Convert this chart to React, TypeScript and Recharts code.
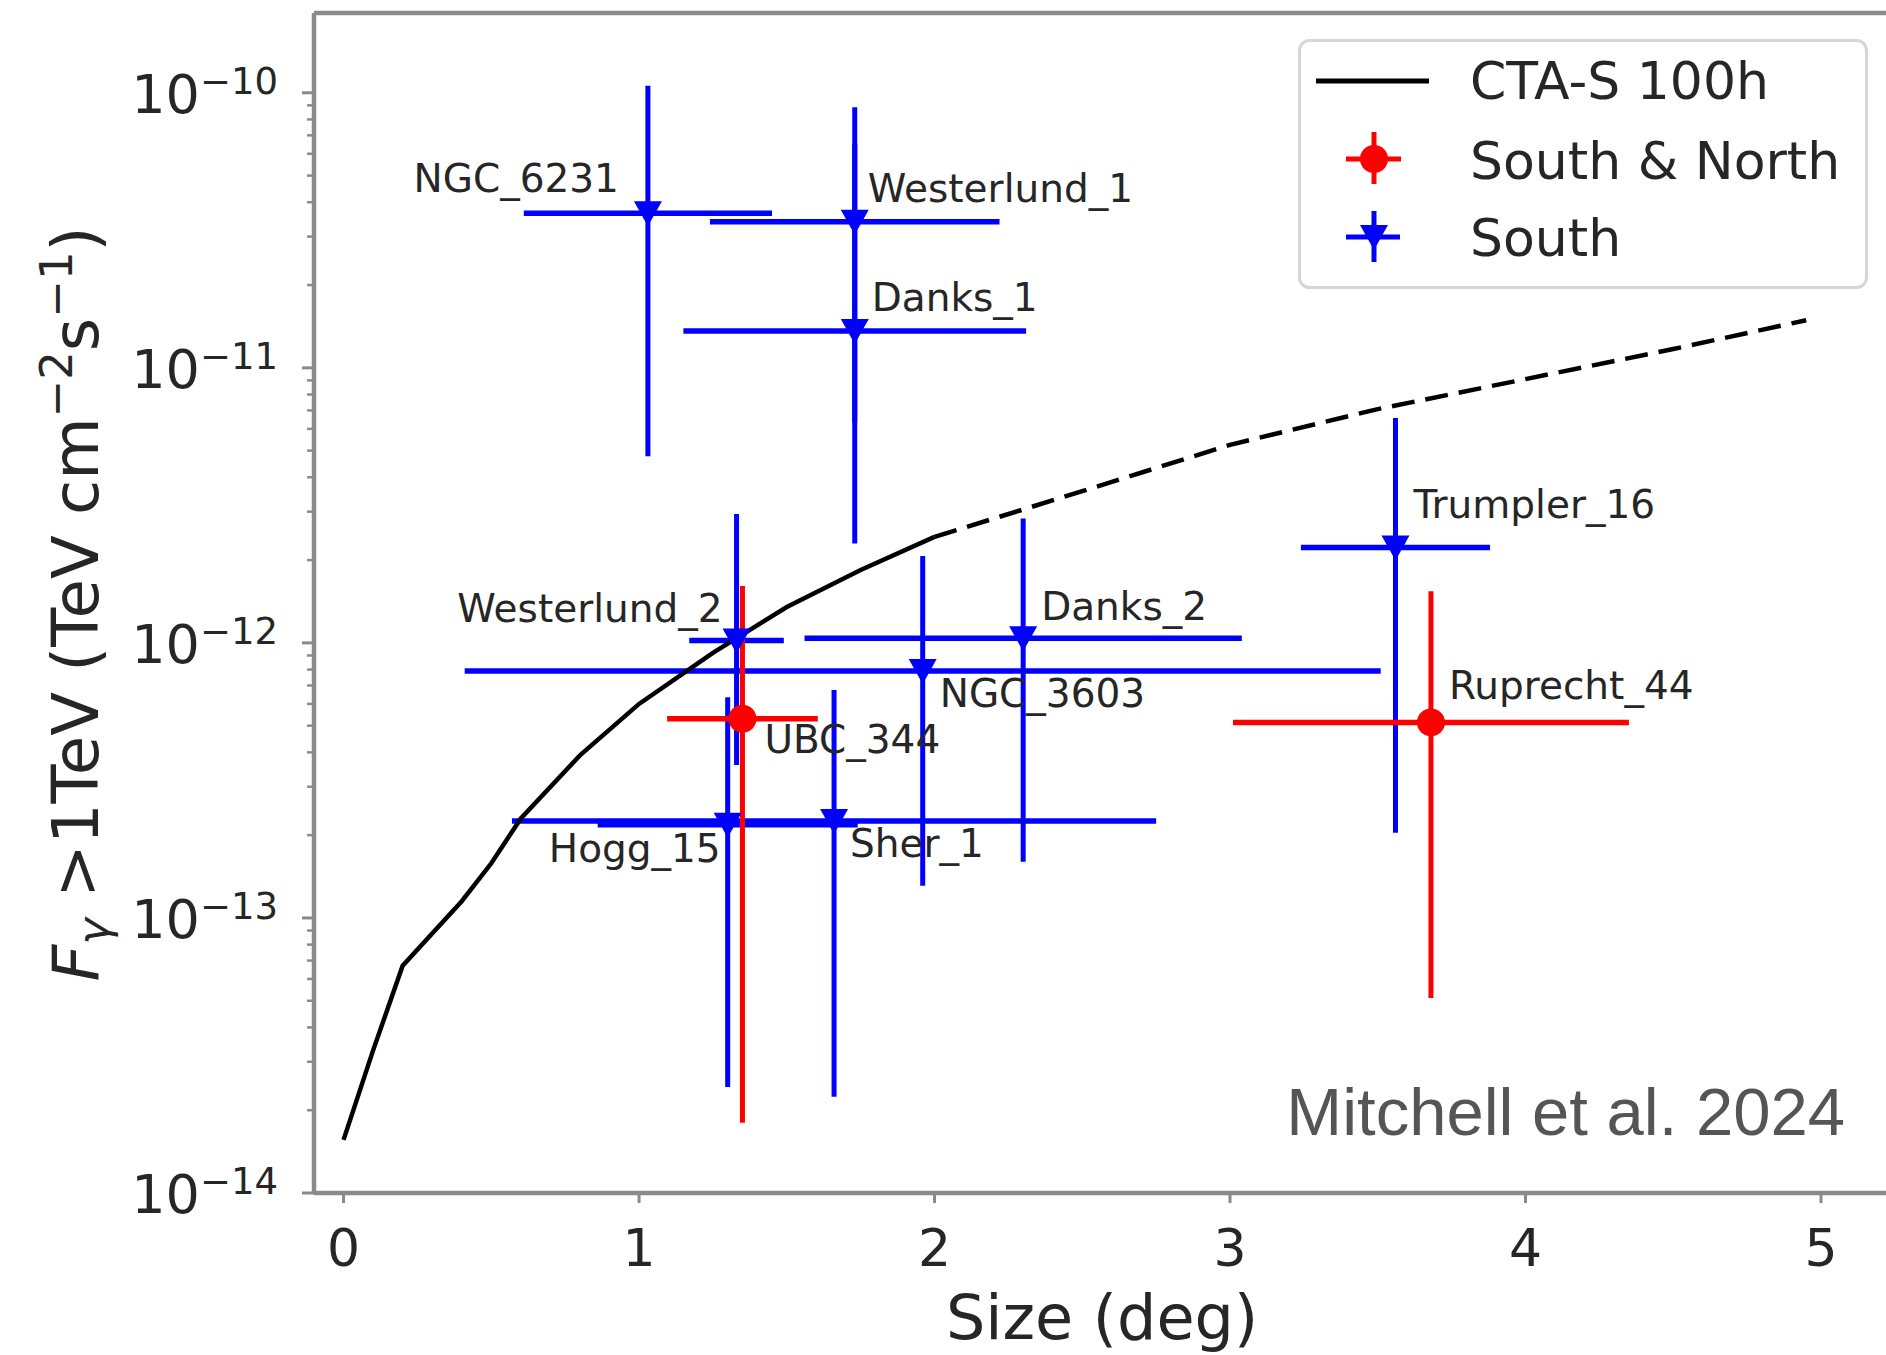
import React from 'react';
import {
  ComposedChart,
  Scatter,
  Line,
  XAxis,
  YAxis,
  ErrorBar,
  ReferenceLine,
  Legend,
  Customized,
} from 'recharts';

// ---------------- data ----------------
const SERIES_CURVE = 'CTA-S 100h';
const SERIES_RED = 'South & North';
const SERIES_BLUE = 'South';

// CTA-S 100h sensitivity curve (solid part, then dashed extrapolation)
const ctaSolidX = [0, 0.1, 0.2, 0.4, 0.5, 0.6, 0.8, 1.0, 1.25, 1.5, 1.75, 2.0];
const ctaSolidY = [1.56e-14, 3.3e-14, 6.7e-14, 1.15e-13, 1.58e-13, 2.3e-13, 3.9e-13, 6.0e-13, 9.2e-13, 1.35e-12, 1.84e-12, 2.43e-12];
const ctaDashX = [2.0, 2.5, 3.0, 3.5, 4.0, 4.5, 4.95];
const ctaDashY = [2.43e-12, 3.56e-12, 5.25e-12, 7.08e-12, 9.1e-12, 1.17e-11, 1.49e-11];

// South clusters
const southNames = ['NGC_6231', 'Westerlund_1', 'Danks_1', 'Westerlund_2', 'Hogg_15', 'Sher_1', 'NGC_3603', 'Danks_2', 'Trumpler_16'];
const southSize = [1.03, 1.73, 1.73, 1.33, 1.30, 1.66, 1.96, 2.30, 3.56];
const southSizeErr = [0.42, 0.49, 0.58, 0.16, 0.44, 1.09, 1.55, 0.74, 0.32];
const southFlux = [3.65e-11, 3.4e-11, 1.36e-11, 1.02e-12, 2.18e-13, 2.25e-13, 7.9e-13, 1.04e-12, 2.22e-12];
const southFluxLow = [4.77e-12, 6.3e-12, 2.3e-12, 3.6e-13, 2.43e-14, 2.24e-14, 1.31e-13, 1.6e-13, 2.04e-13];
const southFluxHigh = [1.06e-10, 8.85e-11, 6.5e-11, 2.94e-12, 6.35e-13, 6.74e-13, 2.07e-12, 2.83e-12, 6.57e-12];

// South & North clusters
const bothNames = ['UBC_344', 'Ruprecht_44'];
const bothSize = [1.35, 3.68];
const bothSizeErr = [0.255, 0.67];
const bothFlux = [5.3e-13, 5.14e-13];
const bothFluxLow = [1.8e-14, 5.12e-14];
const bothFluxHigh = [1.61e-12, 1.54e-12];

const xTicks = [0, 1, 2, 3, 4, 5];
const yMajorTicks = [1e-14, 1e-13, 1e-12, 1e-11, 1e-10];
const yMinorMultipliers = [2, 3, 4, 5, 6, 7, 8, 9];

const X_DOMAIN: [number, number] = [-0.1, 5.22];
const Y_DOMAIN: [number, number] = [1e-14, 1.95e-10];

// ---------------- derived tables ----------------
const ctaSolid = ctaSolidX.map((x, i) => ({ x, y: ctaSolidY[i] }));
const ctaDash = ctaDashX.map((x, i) => ({ x, y: ctaDashY[i] }));

const southData = southNames.map((name, i) => ({
  name,
  x: southSize[i],
  y: southFlux[i],
  errX: southSizeErr[i],
  errY: [southFlux[i] - southFluxLow[i], southFluxHigh[i] - southFlux[i]],
}));
const bothData = bothNames.map((name, i) => ({
  name,
  x: bothSize[i],
  y: bothFlux[i],
  errX: bothSizeErr[i],
  errY: [bothFlux[i] - bothFluxLow[i], bothFluxHigh[i] - bothFlux[i]],
}));

const yMinorTicks: number[] = [];
yMajorTicks.forEach((m) => {
  yMinorMultipliers.forEach((k) => {
    const v = m * k;
    if (v < Y_DOMAIN[1]) yMinorTicks.push(v);
  });
});
const yAllTicks = [...yMajorTicks, ...yMinorTicks].sort((a, b) => a - b);

// ---------------- styles ----------------
const FONT = '"DejaVu Sans", Verdana, sans-serif';
const TEXT = '#262626';
const SPINE = '#8a8a8a';
const BLUE = '#0000ff';
const RED = '#ff0000';

const LABEL_OFFSETS: Record<string, { dx: number; dy: number; anchor: 'start' | 'end' }> = {
  NGC_6231: { dx: -29, dy: -21, anchor: 'end' },
  Westerlund_1: { dx: 13, dy: -20, anchor: 'start' },
  Danks_1: { dx: 17, dy: -20, anchor: 'start' },
  Westerlund_2: { dx: -14, dy: -19, anchor: 'end' },
  Hogg_15: { dx: -7, dy: 37, anchor: 'end' },
  Sher_1: { dx: 16, dy: 36, anchor: 'start' },
  NGC_3603: { dx: 17, dy: 36, anchor: 'start' },
  Danks_2: { dx: 18, dy: -18, anchor: 'start' },
  Trumpler_16: { dx: 18, dy: -30, anchor: 'start' },
  UBC_344: { dx: 22, dy: 34, anchor: 'start' },
  Ruprecht_44: { dx: 18, dy: -23, anchor: 'start' },
};

const PointLabel = ({ cx, cy, name }: { cx: number; cy: number; name: string }) => {
  const o = LABEL_OFFSETS[name] || { dx: 15, dy: -20, anchor: 'start' as const };
  return (
    <text x={cx + o.dx} y={cy + o.dy} textAnchor={o.anchor} fontFamily={FONT} fontSize={39} fill={TEXT}>
      {name}
    </text>
  );
};

const TriangleDown = (props: any) => {
  const { cx, cy, payload } = props;
  if (cx == null || cy == null) return <g />;
  return (
    <g>
      <path d={`M${cx - 14},${cy - 12}L${cx + 14},${cy - 12}L${cx},${cy + 13}Z`} fill={BLUE} />
      <PointLabel cx={cx} cy={cy} name={payload.name} />
    </g>
  );
};

const RedCircle = (props: any) => {
  const { cx, cy, payload } = props;
  if (cx == null || cy == null) return <g />;
  return (
    <g>
      <circle cx={cx} cy={cy} r={14} fill={RED} />
      <PointLabel cx={cx} cy={cy} name={payload.name} />
    </g>
  );
};

const YTick = (props: any) => {
  const { x, y, payload } = props;
  const v = payload.value;
  const lg = Math.log10(v);
  const e = Math.round(lg);
  const major = Math.abs(lg - e) < 1e-6;
  return (
    <g>
      <line x1={x - (major ? 12 : 7)} x2={x} y1={y} y2={y} stroke={SPINE} strokeWidth={major ? 3 : 2.5} />
      {major && (
        <text x={x - 36} y={y + 20} textAnchor="end" fontFamily={FONT} fontSize={54} fill={TEXT}>
          10
          <tspan fontSize={37} dy={-19}>{`\u2212${-e}`}</tspan>
        </text>
      )}
    </g>
  );
};

const XTick = (props: any) => {
  const { x, y, payload } = props;
  return (
    <g>
      <line x1={x} x2={x} y1={y} y2={y + 10} stroke={SPINE} strokeWidth={3} />
      <text x={x} y={y + 73} textAnchor="middle" fontFamily={FONT} fontSize={52} fill={TEXT}>
        {payload.value}
      </text>
    </g>
  );
};

const Annotations = () => (
  <g>
    <text
      transform="translate(98,604) rotate(-90)"
      textAnchor="middle"
      fontFamily={FONT}
      fontSize={64}
      fill={TEXT}
    >
      <tspan fontStyle="italic">F</tspan>
      <tspan fontSize={45} dy={11} fontStyle="italic">γ</tspan>
      <tspan dy={-11}>{' >1TeV (TeV cm'}</tspan>
      <tspan fontSize={45} dy={-26}>{'\u22122'}</tspan>
      <tspan dy={26}>s</tspan>
      <tspan fontSize={45} dy={-26}>{'\u22121'}</tspan>
      <tspan dy={26}>)</tspan>
    </text>
    <text x={1102} y={1339} textAnchor="middle" fontFamily={FONT} fontSize={62} fill={TEXT}>
      Size (deg)
    </text>
    <text
      x={1845}
      y={1135}
      textAnchor="end"
      fontFamily='"Liberation Sans", Arial, sans-serif'
      fontSize={67}
      fill="#555555"
    >
      Mitchell et al. 2024
    </text>
  </g>
);

const LegendContent = () => (
  <svg width={572} height={252} style={{ display: 'block' }}>
    <rect x={1.5} y={1.5} width={567} height={247} rx={10} ry={10} fill="#ffffff" fillOpacity={0.85} stroke="#d6d6d6" strokeWidth={3} />
    <line x1={18} x2={131} y1={42} y2={42} stroke="#000000" strokeWidth={5} />
    <line x1={76} x2={76} y1={93} y2={145} stroke={RED} strokeWidth={5} />
    <line x1={48} x2={103} y1={120} y2={120} stroke={RED} strokeWidth={5} />
    <circle cx={76} cy={120} r={14} fill={RED} />
    <line x1={76} x2={76} y1={172} y2={223} stroke={BLUE} strokeWidth={5} />
    <line x1={48} x2={102} y1={198} y2={198} stroke={BLUE} strokeWidth={5} />
    <path d="M62,186L90,186L76,211Z" fill={BLUE} />
    <text x={172} y={60} fontFamily={FONT} fontSize={52} fill={TEXT}>{SERIES_CURVE}</text>
    <text x={172} y={140} fontFamily={FONT} fontSize={52} fill={TEXT}>{SERIES_RED}</text>
    <text x={172} y={217} fontFamily={FONT} fontSize={52} fill={TEXT}>{SERIES_BLUE}</text>
  </svg>
);

export default function App() {
  return (
    <div style={{ position: 'absolute', left: 0, top: 0, width: 1886, height: 1355, background: '#ffffff', overflow: 'hidden' }}>
      <ComposedChart width={1886} height={1355} margin={{ top: 13, right: 0, bottom: 0, left: 0 }}>
        <XAxis
          dataKey="x"
          type="number"
          domain={X_DOMAIN}
          allowDataOverflow
          ticks={xTicks}
          interval={0}
          height={162}
          tickSize={0}
          tickMargin={0}
          tickLine={false}
          tick={<XTick />}
          axisLine={{ stroke: SPINE, strokeWidth: 4.5 }}
        />
        <YAxis
          type="number"
          scale="log"
          domain={Y_DOMAIN}
          allowDataOverflow
          ticks={yAllTicks}
          interval={0}
          width={314}
          tickSize={0}
          tickMargin={0}
          tickLine={false}
          tick={<YTick />}
          axisLine={{ stroke: SPINE, strokeWidth: 4.5 }}
        />
        <ReferenceLine y={Y_DOMAIN[1]} stroke={SPINE} strokeWidth={4.5} ifOverflow="visible" />
        <Scatter name={SERIES_BLUE} data={southData} dataKey="y" fill={BLUE} shape={<TriangleDown />} isAnimationActive={false}>
          <ErrorBar dataKey="errX" direction="x" width={0} stroke={BLUE} strokeWidth={5.5} />
          <ErrorBar dataKey="errY" direction="y" width={0} stroke={BLUE} strokeWidth={5} />
        </Scatter>
        <Scatter name={SERIES_RED} data={bothData} dataKey="y" fill={RED} shape={<RedCircle />} isAnimationActive={false}>
          <ErrorBar dataKey="errX" direction="x" width={0} stroke={RED} strokeWidth={5.5} />
          <ErrorBar dataKey="errY" direction="y" width={0} stroke={RED} strokeWidth={5} />
        </Scatter>
        <Line
          name={SERIES_CURVE}
          data={ctaSolid}
          dataKey="y"
          type="linear"
          stroke="#000000"
          strokeWidth={4.5}
          dot={false}
          activeDot={false}
          isAnimationActive={false}
        />
        <Line
          name={`${SERIES_CURVE} (extrapolated)`}
          data={ctaDash}
          dataKey="y"
          type="linear"
          stroke="#000000"
          strokeWidth={4.5}
          strokeDasharray="23 11"
          dot={false}
          activeDot={false}
          isAnimationActive={false}
        />
        <Legend
          layout="vertical"
          align="center"
          verticalAlign="middle"
          content={<LegendContent />}
          wrapperStyle={{ left: 1298, top: 39, width: 572, height: 252 }}
        />
        <Customized component={<Annotations />} />
      </ComposedChart>
    </div>
  );
}
